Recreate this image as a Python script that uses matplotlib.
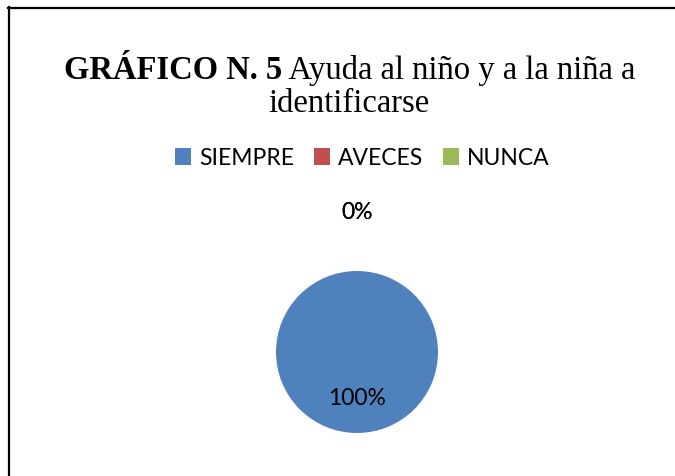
import matplotlib
matplotlib.use("Agg")
import matplotlib.pyplot as plt
from matplotlib.lines import Line2D
from matplotlib.patches import Rectangle
import numpy as np

categories = ["SIEMPRE", "AVECES", "NUNCA"]
values = [100, 0, 0]
colors = ["#4F81BD", "#C0504D", "#9BBB59"]
title_bold = "GRÁFICO N. 5"
title_rest = " Ayuda al niño y a la niña a"
title_line2 = "identificarse"

W, H = 675, 477
DPI = 100
fig = plt.figure(figsize=(W / DPI, H / DPI), dpi=DPI)
fig.patch.set_facecolor("white")

def fx(px):
    return px / W

def fy(py):
    return 1 - py / H

# frame (left and top lines)
fig.add_artist(Line2D([fx(9), fx(9)], [fy(8), fy(477)], color="black", lw=1.6, transform=fig.transFigure))
fig.add_artist(Line2D([fx(8), fx(675)], [fy(8.5), fy(8.5)], color="black", lw=1.6, transform=fig.transFigure))

# title
serif = "Liberation Serif"
tsize = 23.5
renderer = fig.canvas.get_renderer()
t1 = fig.text(0, fy(79), title_bold, fontfamily=serif, fontweight="bold", fontsize=tsize, va="baseline", ha="left")
t2 = fig.text(0, fy(79), title_rest, fontfamily=serif, fontsize=tsize, va="baseline", ha="left")
w1 = t1.get_window_extent(renderer).width
w2 = t2.get_window_extent(renderer).width
cx = 350
start = cx - (w1 + w2) / 2
t1.set_x(fx(start))
t2.set_x(fx(start + w1))
fig.text(fx(349), fy(112), title_line2, fontfamily=serif, fontsize=tsize, va="baseline", ha="center")

# pie
cxp, cyp, R = 357, 353, 81
L = 1.9
size = 2 * L * R
ax = fig.add_axes([fx(cxp - size / 2), fy(cyp + size / 2), size / W, size / H])
wedges, _ = ax.pie(values, colors=colors, startangle=90, counterclock=False,
                   radius=1, wedgeprops=dict(linewidth=0))
ax.set_xlim(-L, L)
ax.set_ylim(-L, L)
ax.set_aspect("equal")
ax.axis("off")
total = sum(values)
for w, v in zip(wedges, values):
    mid = np.deg2rad((w.theta1 + w.theta2) / 2)
    d = 0.56 if v > 0 else 1.74
    ax.text(d * np.cos(mid), d * np.sin(mid), f"{v / total * 100:.0f}%",
            ha="center", va="center", fontsize=16.5, fontfamily="Lato", color="black", clip_on=False)

# legend
leg_y = 159
handles = [Rectangle((0, 0), 1, 1, facecolor=c, edgecolor="none") for c in colors]
fig.legend(handles, categories, loc="center", bbox_to_anchor=(fx(362), fy(leg_y)), ncol=3,
           frameon=False, prop={"family": "Lato", "size": 16.5}, handlelength=0.7, handleheight=0.7,
           handletextpad=0.35, columnspacing=0.86)

fig.savefig("out.png", dpi=DPI, facecolor="white")
